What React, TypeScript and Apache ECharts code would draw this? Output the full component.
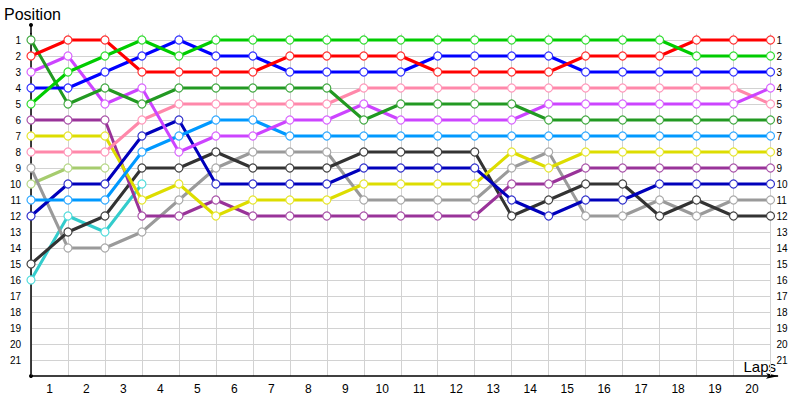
import React, { useEffect, useRef } from "react";
import * as echarts from "echarts";

const laps = Array.from({ length: 21 }, (_, i) => i);
const lapLabels = ["1","2","3","4","5","6","7","8","9","10","11","12","13","14","15","16","17","18","19","20"];
const positionTicks = [1,2,3,4,5,6,7,8,9,10,11,12,13,14,15,16,17,18,19,20,21];

const brightGreen = [5,3,2,1,2,1,1,1,1,1,1,1,1,1,1,1,1,1,2,2,2];
const darkGreen = [1,5,4,5,4,4,4,4,4,6,5,5,5,5,6,6,6,6,6,6,6];
const red = [2,1,1,3,3,3,3,2,2,2,2,3,3,3,3,2,2,2,1,1,1];
const violet = [3,2,5,4,8,7,7,6,6,5,6,6,6,6,5,5,5,5,5,5,4];
const blue = [4,4,3,2,1,2,2,3,3,3,3,2,2,2,2,3,3,3,3,3,3];
const purple = [6,6,6,12,12,11,12,12,12,12,12,12,12,10,10,9,9,9,9,9,9];
const yellow = [7,7,7,11,10,12,11,11,11,10,10,10,10,8,9,8,8,8,8,8,8];
const pink = [8,8,8,6,5,5,5,5,5,4,4,4,4,4,4,4,4,4,4,4,5];
const gray = [9,14,14,13,11,9,8,8,8,11,11,11,11,9,8,12,12,11,12,11,11];
const olive = [10,9,9];
const sky = [11,11,11,8,7,6,6,7,7,7,7,7,7,7,7,7,7,7,7,7,7];
const navy = [12,10,10,7,6,10,10,10,10,9,9,9,9,11,12,11,11,10,10,10,10];
const black = [15,13,12,9,9,8,9,9,9,8,8,8,8,12,11,10,10,12,11,12,12];
const teal = [16,12,13,10];

const drivers: { name: string; values: number[]; color: string; border: string }[] = [
  { name: "Olive", values: olive, color: "#a6cc6e", border: "#b8d98a" },
  { name: "Teal", values: teal, color: "#33cccc", border: "#55dddd" },
  { name: "Gray", values: gray, color: "#9a9a9a", border: "#aaaaaa" },
  { name: "Black", values: black, color: "#333333", border: "#444444" },
  { name: "Purple", values: purple, color: "#993399", border: "#aa55aa" },
  { name: "Yellow", values: yellow, color: "#dddd00", border: "#e6e633" },
  { name: "Navy", values: navy, color: "#0000bb", border: "#3333cc" },
  { name: "Sky", values: sky, color: "#0099ff", border: "#33aaff" },
  { name: "Pink", values: pink, color: "#ff88aa", border: "#ff99bb" },
  { name: "Violet", values: violet, color: "#cc44ff", border: "#d966ff" },
  { name: "DarkGreen", values: darkGreen, color: "#229922", border: "#44aa44" },
  { name: "Blue", values: blue, color: "#0000ff", border: "#3333ff" },
  { name: "Red", values: red, color: "#ff0000", border: "#ff3333" },
  { name: "Green", values: brightGreen, color: "#00cc00", border: "#33dd33" },
];

const FONT = '"Liberation Sans", Arial, sans-serif';

export default function App() {
  const ref = useRef<HTMLDivElement>(null);
  useEffect(() => {
    document.body.style.margin = "0";
    const chart = echarts.init(ref.current!, null, { renderer: "svg" });
    const option: any = {
      animation: false,
      backgroundColor: "#ffffff",
      grid: { left: 31, right: 29.5, top: 33.6, bottom: 24, containLabel: false },
      xAxis: [
        {
          type: "value",
          min: 0,
          max: 20,
          interval: 1,
          position: "bottom",
          axisLine: { show: true, lineStyle: { color: "#000", width: 1.5 } },
          axisTick: { show: false },
          axisLabel: { show: false },
          splitLine: { show: true, lineStyle: { color: "#d2d2d2", width: 1 } },
        },
        {
          type: "category",
          data: lapLabels,
          boundaryGap: true,
          position: "bottom",
          axisLine: { show: false },
          axisTick: { show: false },
          splitLine: { show: false },
          axisLabel: { fontSize: 12, color: "#000", margin: 7, fontFamily: FONT },
        },
      ],
      yAxis: [
        {
          type: "value",
          inverse: true,
          min: 0.6,
          max: 22,
          position: "left",
          axisLine: { show: true, lineStyle: { color: "#000", width: 1.5 } },
          axisTick: { show: false, customValues: positionTicks },
          axisLabel: { customValues: positionTicks, fontSize: 10, color: "#000", margin: 10, fontFamily: FONT },
          splitLine: { show: true, lineStyle: { color: "#d2d2d2", width: 1 } },
        },
        {
          type: "value",
          inverse: true,
          min: 0.6,
          max: 22,
          position: "right",
          axisLine: { show: false },
          axisTick: { show: false, customValues: positionTicks },
          axisLabel: { customValues: positionTicks, fontSize: 10, color: "#000", margin: 6, fontFamily: FONT },
          splitLine: { show: false },
        },
      ],
      series: drivers.map((d) => ({
        type: "line",
        name: d.name,
        xAxisIndex: 0,
        yAxisIndex: 0,
        data: d.values.map((v, i) => [laps[i], v]),
        symbol: "circle",
        symbolSize: 8,
        showSymbol: true,
        lineStyle: { color: d.color, width: 3 },
        itemStyle: { color: "#ffffff", borderColor: d.border, borderWidth: 1.2 },
        emphasis: { disabled: true },
        silent: true,
      })),
      graphic: [
        { type: "text", x: 4, y: 6, style: { text: "Position", font: `16px ${FONT}`, fill: "#000" } },
        {
          type: "text",
          x: 776,
          y: 366,
          style: { text: "Laps", font: `15px ${FONT}`, fill: "#000", textAlign: "right", textVerticalAlign: "middle" },
        },
        { type: "line", shape: { x1: 31, y1: 25, x2: 31, y2: 34 }, style: { stroke: "#000", lineWidth: 1.5 } },
        { type: "circle", shape: { cx: 31, cy: 25, r: 2 }, style: { fill: "#000" } },
        { type: "circle", shape: { cx: 31, cy: 376, r: 2 }, style: { fill: "#000" } },
        { type: "line", shape: { x1: 770, y1: 376, x2: 778, y2: 376 }, style: { stroke: "#000", lineWidth: 1.5 } },
        {
          type: "polygon",
          shape: { points: [[766, 373.2], [779, 376], [766, 378.8], [768.5, 376]] },
          style: { fill: "#000" },
        },
      ],
    };
    chart.setOption(option);
    return () => chart.dispose();
  }, []);
  return <div ref={ref} style={{ position: "fixed", left: 0, top: 0, width: 800, height: 400 }} />;
}
